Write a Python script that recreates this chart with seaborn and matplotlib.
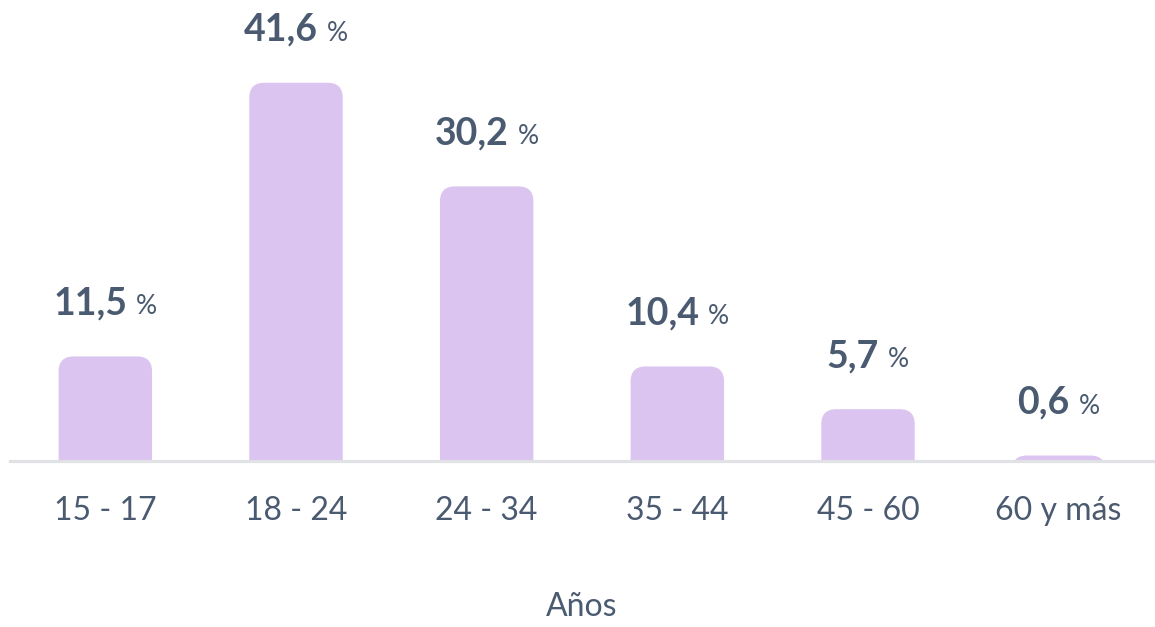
import matplotlib
matplotlib.use("Agg")
import matplotlib.pyplot as plt
from matplotlib.patches import FancyBboxPatch
import seaborn as sns
import pandas as pd

age_groups = ["15 - 17", "18 - 24", "24 - 34", "35 - 44", "45 - 60", "60 y más"]
percentages = [11.5, 41.6, 30.2, 10.4, 5.7, 0.6]

bar_color = "#dbc4f0"
text_color = "#4a5a70"

sns.set_style("white")
plt.rcParams["font.family"] = ["Lato", "DejaVu Sans"]

df = pd.DataFrame({"edad": age_groups, "pct": percentages})

W, H, DPI = 1155, 627, 100
fig = plt.figure(figsize=(W / DPI, H / DPI), dpi=DPI)
ax = fig.add_axes([10 / W, 1 - 461 / H, 1144 / W, 461 / H])

sns.barplot(data=df, x="edad", y="pct", color=bar_color, width=0.49,
            saturation=1, ax=ax)
ax.set_xlim(-0.5, 5.5)
ax.set_ylim(0, 50.7)

# rounded tops: swap the rectangles for rounded boxes
px_x = ax.bbox.width / 6.0
px_y = ax.bbox.height / 50.7
radius_px = 15
rx = radius_px / px_x
ry = radius_px / px_y
for p in list(ax.patches):
    x0, w, h = p.get_x(), p.get_width(), p.get_height()
    p.remove()
    box = FancyBboxPatch((x0, -ry), w, h + ry,
                         boxstyle=f"round,pad=0,rounding_size={rx}",
                         mutation_aspect=ry / rx,
                         facecolor=bar_color, edgecolor="none", clip_on=True)
    ax.add_patch(box)

for s in ["top", "right", "left"]:
    ax.spines[s].set_visible(False)
ax.spines["bottom"].set_color("#e1e2e6")
ax.spines["bottom"].set_linewidth(2.3)
ax.set_yticks([])
ax.set_ylabel("")
ax.tick_params(axis="x", length=0, pad=25, labelsize=23, labelcolor=text_color)
ax.set_xlabel("Años", fontsize=23, color=text_color, labelpad=48)

# value labels: bold number + small percent sign, centered as a group
fig.canvas.draw()
renderer = fig.canvas.get_renderer()
gap = 9
for i, v in enumerate(percentages):
    num = f"{v:.1f}".replace(".", ",")
    t1 = ax.annotate(num, xy=(i, v), xytext=(0, 42), textcoords="offset pixels",
                     ha="left", va="baseline", fontsize=27, fontweight="bold",
                     color=text_color)
    t2 = ax.annotate("%", xy=(i, v), xytext=(0, 42), textcoords="offset pixels",
                     ha="left", va="baseline", fontsize=19, color=text_color)
    w1 = t1.get_window_extent(renderer).width
    w2 = t2.get_window_extent(renderer).width
    total = w1 + gap + w2
    t1.xyann = (-total / 2, 42)
    t2.xyann = (-total / 2 + w1 + gap, 42)

fig.savefig("out.png", dpi=DPI, facecolor="white")
